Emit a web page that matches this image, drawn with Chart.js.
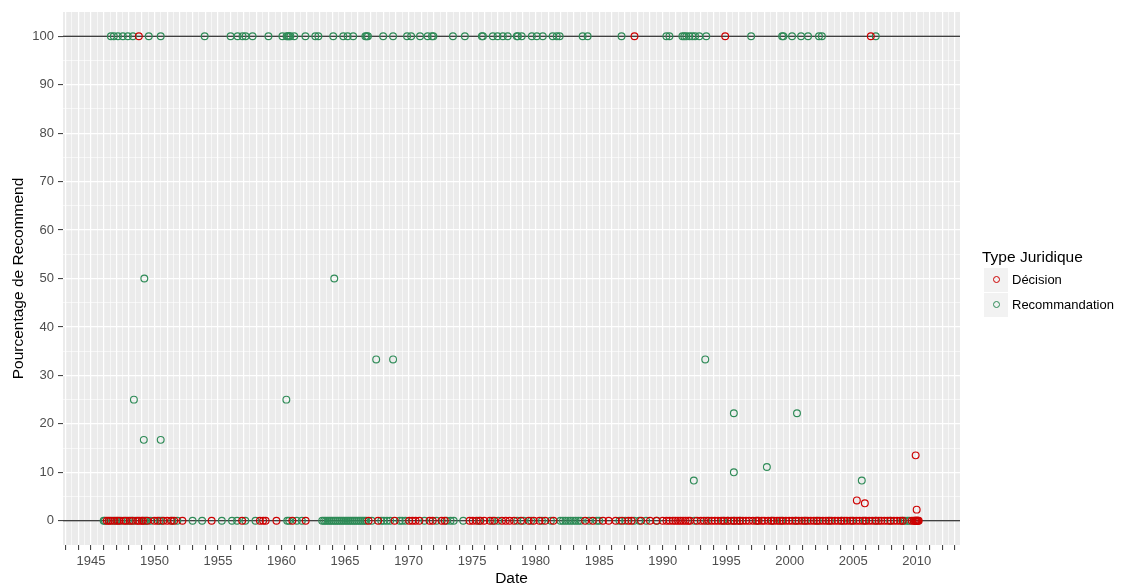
<!DOCTYPE html>
<html lang="fr">
<head>
<meta charset="UTF-8">
<title>Pourcentage de Recommandation par date</title>
<script src="https://cdn.jsdelivr.net/npm/chart.js"></script>
<style>
  body { margin: 0; background: #fff; }
  #wrap { position: relative; width: 1121px; height: 586px; font-family: "Liberation Sans", Arial, sans-serif; }
  #legend { position: absolute; left: 982px; top: 248px; color: #000; }
  #legend .title { font-size: 15.5px; margin-bottom: 1px; }
  #legend .item { display: flex; align-items: center; height: 25px; }
  #legend .key { width: 24px; height: 24px; background: #f2f2f2; display: flex; align-items: center; justify-content: center; margin-left: 2px; margin-right: 4px; }
  #legend .dot { width: 5px; height: 5px; border-radius: 50%; border: 1.3px solid; }
  #legend .label { font-size: 13px; }
</style>
</head>
<body>
<div id="wrap">
  <canvas id="chart" width="1121" height="586"></canvas>
  <div id="legend"></div>
</div>
<script>
// series names and colours
const seriesNames = ['Décision', 'Recommandation'];
const seriesColors = ['#cd0000', '#2e8b57'];

// dates (decimal years) of items at 0 %
const decisionZero = [1946.25, 1946.4, 1946.55, 1946.85, 1947.1, 1947.25, 1947.6, 1947.75, 1948.05, 1948.3, 1948.65, 1948.8,
  1949.0, 1949.1, 1949.45, 1950.0, 1950.25, 1950.7, 1951.0, 1951.3, 1951.55, 1952.2, 1954.5, 1956.9, 1958.3, 1958.55,
  1958.75, 1959.6, 1960.85, 1961.9, 1966.85, 1967.6, 1968.9, 1970.05, 1970.3, 1970.55, 1970.85, 1971.65, 1971.9, 1972.6,
  1972.85, 1974.8, 1975.05, 1975.35, 1975.65, 1975.95, 1976.4, 1976.75, 1977.35, 1977.65, 1977.95, 1978.3, 1978.85,
  1979.45, 1979.85, 1980.3, 1980.75, 1981.4, 1983.9, 1984.5, 1985.3, 1985.75, 1986.3, 1986.8, 1987.3, 1987.55, 1988.3,
  1989.0, 1989.5, 1990.0, 1990.3, 1990.55, 1990.8, 1991.0, 1991.2, 1991.4, 1991.6, 1991.8, 1992.0, 1992.15, 1992.7,
  1993.0, 1993.25, 1993.6, 1993.85, 1994.1, 1994.35, 1994.6, 1994.85, 1995.1, 1995.4, 1995.6, 1995.85, 1996.05, 1996.3,
  1996.55, 1996.8, 1997.1, 1997.35, 1997.55, 1997.8, 1998.0, 1998.3, 1998.55, 1998.75, 1999.0, 1999.2, 1999.45, 1999.7,
  1999.95, 2000.2, 2000.45, 2000.7, 2000.95, 2001.15, 2001.4, 2001.65, 2001.9, 2002.1, 2002.35, 2002.6, 2002.85, 2003.05,
  2003.3, 2003.55, 2003.8, 2004.05, 2004.3, 2004.5, 2004.75, 2005.0, 2005.25, 2005.5, 2005.75, 2006.0, 2006.25, 2006.5,
  2006.75, 2007.0, 2007.2, 2007.45, 2007.7, 2007.95, 2008.2, 2008.45, 2008.7, 2008.9, 2009.6, 2009.75, 2009.85, 2009.9,
  2009.95, 2010.0, 2010.05, 2010.1, 2010.15];
const recoZero = [1946.0, 1946.1, 1946.7, 1947.0, 1947.4, 1947.9, 1948.2, 1948.5, 1949.25, 1949.35, 1949.7, 1950.4,
  1950.55, 1951.4, 1951.8, 1953.0, 1953.75, 1955.3, 1956.1, 1956.5, 1957.15, 1957.95, 1960.45, 1960.6, 1961.2, 1961.6,
  1963.2, 1963.35, 1963.5, 1963.65, 1963.8, 1963.95, 1964.1, 1964.25, 1964.4, 1964.55, 1964.7, 1964.85, 1965.0, 1965.15,
  1965.3, 1965.45, 1965.6, 1965.75, 1965.9, 1966.05, 1966.2, 1966.35, 1966.5, 1966.65, 1967.1, 1967.85, 1968.05, 1968.3,
  1968.55, 1969.3, 1969.5, 1969.75, 1971.25, 1972.2, 1973.0, 1973.3, 1973.55, 1974.3, 1975.55, 1976.6, 1977.05, 1978.55,
  1979.05, 1979.65, 1980.5, 1981.2, 1981.95, 1982.15, 1982.35, 1982.55, 1982.75, 1982.95, 1983.15, 1983.35, 1983.55,
  1984.2, 1984.8, 1985.0, 1986.6, 1987.05, 1987.75, 1988.15, 1988.7, 1989.55, 1992.5, 1993.45, 1994.75, 1995.15, 1995.65,
  1996.1, 1997.45, 1998.6, 1999.35, 2000.5, 2001.25, 2002.2, 2003.15, 2004.1, 2004.9, 2005.9, 2006.8, 2007.9, 2008.85,
  2009.05, 2009.25, 2009.4];

// dates of items at 100 %
const decisionHundred = [1948.77, 1987.78, 1994.92, 2006.38];
const recoHundred = [1946.57, 1946.8, 1947.12, 1947.51, 1947.9, 1948.3, 1949.55, 1950.49, 1953.95, 1955.99, 1956.54,
  1956.93, 1957.17, 1957.72, 1958.97, 1960.07, 1960.4, 1960.5, 1960.6, 1960.7, 1961.0, 1961.88, 1962.66, 1962.9, 1964.07,
  1964.86, 1965.2, 1965.64, 1966.6, 1966.7, 1966.8, 1968.0, 1968.78, 1969.88, 1970.2, 1970.9, 1971.5, 1971.84, 1971.95,
  1973.49, 1974.43, 1975.77, 1975.85, 1976.63, 1977.0, 1977.42, 1977.8, 1978.52, 1978.6, 1978.9, 1979.7, 1980.09, 1980.56,
  1981.34, 1981.66, 1981.89, 1983.7, 1984.09, 1986.76, 1990.29, 1990.53, 1991.55, 1991.7, 1991.86, 1992.1, 1992.33,
  1992.55, 1992.88, 1993.43, 1996.96, 1999.4, 1999.5, 2000.18, 2000.89, 2001.44, 2002.3, 2002.53, 2006.77];

// other values [date, percentage]
const decisionOther = [[2005.28, 4.2], [2005.91, 3.6], [2009.91, 13.5], [2009.99, 2.3]];
const recoOther = [[1948.38, 25], [1949.2, 50], [1949.16, 16.7], [1950.49, 16.7], [1960.38, 25], [1964.15, 50],
  [1967.45, 33.3], [1968.78, 33.3], [1992.45, 8.3], [1993.35, 33.3], [1995.6, 22.2], [1995.6, 10], [1998.2, 11.1],
  [2000.57, 22.2], [2005.67, 8.3]];

// axes
const xMin = 1942.8, xMax = 2013.4;
const xLabelYears = [1945, 1950, 1955, 1960, 1965, 1970, 1975, 1980, 1985, 1990, 1995, 2000, 2005, 2010];
const yMin = -5, yMax = 105;
const yTicks = [0, 10, 20, 30, 40, 50, 60, 70, 80, 90, 100];
const hLines = [0, 100];

function points(zero, hundred, other) {
    return zero.map(x => ({x: x, y: 0}))
        .concat(hundred.map(x => ({x: x, y: 100})))
        .concat(other.map(p => ({x: p[0], y: p[1]})));
}

// ticks every half year (minor grid) between the limits
const xGridTicks = [];
for (let v = Math.ceil(xMin * 2) / 2; v <= xMax; v += 0.5) xGridTicks.push(v);

const panelPlugin = {
    id: 'panel',
    beforeDraw(chart) {
        const {ctx, chartArea: a} = chart;
        ctx.save();
        ctx.fillStyle = '#ebebeb';
        ctx.fillRect(a.left, a.top, a.right - a.left, a.bottom - a.top);
        ctx.restore();
    },
    beforeDatasetsDraw(chart) {
        const {ctx, chartArea: a, scales} = chart;
        ctx.save();
        ctx.strokeStyle = '#000';
        ctx.lineWidth = 1.1;
        hLines.forEach(v => {
            const y = scales.y.getPixelForValue(v);
            ctx.beginPath();
            ctx.moveTo(a.left, y);
            ctx.lineTo(a.right, y);
            ctx.stroke();
        });
        ctx.restore();
    }
};

const tickFont = {family: '"Liberation Sans", Arial, sans-serif', size: 13};
const titleFont = {family: '"Liberation Sans", Arial, sans-serif', size: 15.5, lineHeight: 1};

new Chart(document.getElementById('chart'), {
    type: 'scatter',
    data: {
        datasets: [
            {
                label: seriesNames[0],
                data: points(decisionZero, decisionHundred, decisionOther),
                borderColor: seriesColors[0],
                backgroundColor: 'rgba(0,0,0,0)',
                borderWidth: 1.15,
                pointRadius: 3.4
            },
            {
                label: seriesNames[1],
                data: points(recoZero, recoHundred, recoOther),
                borderColor: seriesColors[1],
                backgroundColor: 'rgba(0,0,0,0)',
                borderWidth: 1.15,
                pointRadius: 3.4
            }
        ]
    },
    options: {
        responsive: false,
        animation: false,
        devicePixelRatio: 1,
        layout: { padding: { top: 12, right: 161, left: 0, bottom: 0 } },
        plugins: { legend: { display: false }, tooltip: { enabled: false } },
        scales: {
            x: {
                type: 'linear',
                min: xMin,
                max: xMax,
                afterBuildTicks: scale => { scale.ticks = xGridTicks.map(v => ({value: v})); },
                afterFit: scale => { scale.height = 41; },
                border: { display: false },
                grid: {
                    color: c => '#ffffff',
                    lineWidth: c => Number.isInteger(c.tick.value) ? 1.2 : 0.6,
                    tickColor: c => Number.isInteger(c.tick.value) ? '#333333' : 'rgba(0,0,0,0)',
                    tickLength: 5,
                    tickWidth: 1
                },
                ticks: {
                    autoSkip: false,
                    maxRotation: 0,
                    padding: 4,
                    color: '#4d4d4d',
                    font: tickFont,
                    callback: v => xLabelYears.includes(v) ? String(v) : ''
                },
                title: { display: true, text: 'Date', color: '#000', font: titleFont, padding: {top: 0, bottom: 0} }
            },
            y: {
                min: yMin,
                max: yMax,
                afterBuildTicks: scale => {
                    const t = [];
                    for (let v = yMin; v <= yMax; v += 5) t.push({value: v});
                    scale.ticks = t;
                },
                afterFit: scale => { scale.width = 63; },
                border: { display: false },
                grid: {
                    color: c => (c.tick.value === yMin || c.tick.value === yMax) ? 'rgba(0,0,0,0)' : '#ffffff',
                    lineWidth: c => yTicks.includes(c.tick.value) ? 1.2 : 0.6,
                    tickColor: c => yTicks.includes(c.tick.value) ? '#333333' : 'rgba(0,0,0,0)',
                    tickLength: 5,
                    tickWidth: 1
                },
                ticks: {
                    autoSkip: false,
                    padding: 4,
                    color: '#4d4d4d',
                    font: tickFont,
                    callback: v => yTicks.includes(v) ? String(v) : ''
                },
                title: { display: true, text: 'Pourcentage de Recommend', color: '#000', font: titleFont, padding: {top: 11, bottom: 0} }
            }
        }
    },
    plugins: [panelPlugin]
});

// legend, ggplot style
const legend = document.getElementById('legend');
legend.innerHTML = '<div class="title">Type Juridique</div>' + seriesNames.map((n, i) =>
    '<div class="item"><div class="key"><div class="dot" style="border-color:' + seriesColors[i] + '"></div></div>' +
    '<span class="label">' + n + '</span></div>').join('');
</script>
</body>
</html>
